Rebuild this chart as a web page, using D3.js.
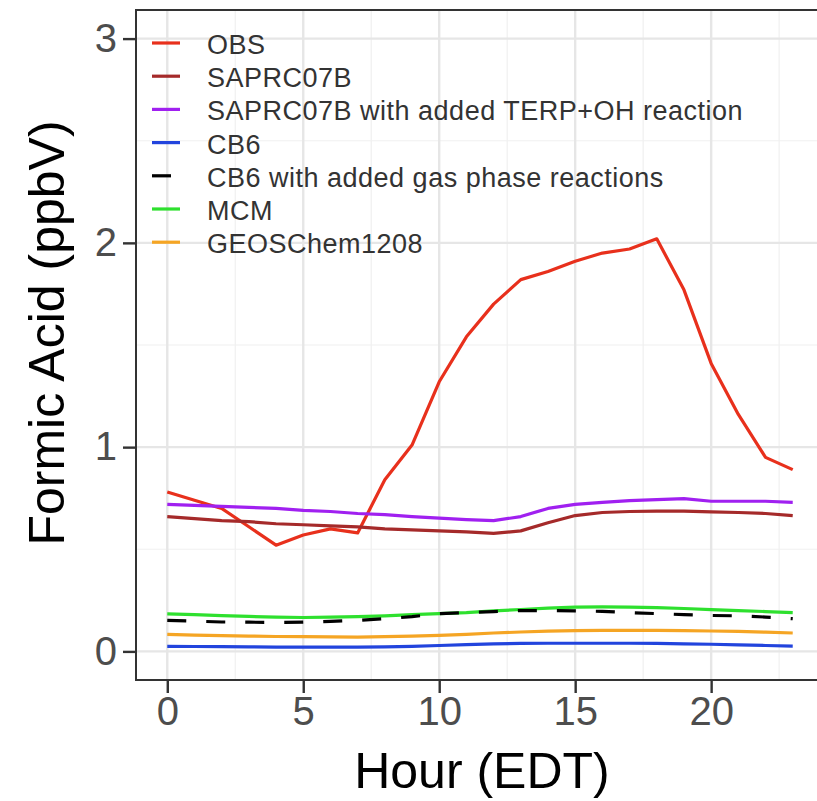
<!DOCTYPE html>
<html>
<head>
<meta charset="utf-8">
<script src="https://cdn.jsdelivr.net/npm/d3@7"></script>
<style>
  body { margin: 0; background: #fff; overflow: hidden; }
  svg { display: block; }
  text { font-family: "Liberation Sans", Arial, Helvetica, sans-serif; }
</style>
</head>
<body>
<svg id="chart" width="817" height="801"></svg>
<script>
// hours of the day
var hours = [0, 1, 2, 3, 4, 5, 6, 7, 8, 9, 10, 11, 12, 13, 14, 15, 16, 17, 18, 19, 20, 21, 22, 23];
var xTicks = [0, 5, 10, 15, 20];
var yTicks = [0, 1, 2, 3];

// formic acid, ppbV
var obs = [0.78, 0.74, 0.70, 0.61, 0.52, 0.57, 0.60, 0.58, 0.84, 1.01, 1.32, 1.54, 1.70, 1.82, 1.86, 1.91, 1.95, 1.97, 2.02, 1.77, 1.41, 1.16, 0.95, 0.89];
var saprc = [0.66, 0.65, 0.64, 0.635, 0.625, 0.62, 0.615, 0.61, 0.60, 0.595, 0.59, 0.585, 0.578, 0.59, 0.63, 0.665, 0.68, 0.685, 0.687, 0.687, 0.683, 0.68, 0.675, 0.665];
var saprcTerp = [0.72, 0.715, 0.71, 0.705, 0.70, 0.69, 0.685, 0.675, 0.67, 0.66, 0.652, 0.645, 0.64, 0.66, 0.70, 0.72, 0.73, 0.738, 0.743, 0.748, 0.735, 0.735, 0.735, 0.73];
var cb6 = [0.025, 0.024, 0.023, 0.022, 0.021, 0.021, 0.021, 0.021, 0.022, 0.025, 0.029, 0.033, 0.037, 0.039, 0.040, 0.040, 0.040, 0.040, 0.039, 0.037, 0.035, 0.032, 0.029, 0.026];
var cb6Added = [0.152, 0.148, 0.144, 0.143, 0.142, 0.143, 0.147, 0.152, 0.16, 0.17, 0.185, 0.19, 0.195, 0.2, 0.2, 0.198, 0.196, 0.19, 0.185, 0.18, 0.176, 0.174, 0.168, 0.16];
var mcm = [0.184, 0.18, 0.175, 0.171, 0.168, 0.166, 0.168, 0.17, 0.174, 0.18, 0.185, 0.19, 0.198, 0.205, 0.212, 0.217, 0.218, 0.217, 0.214, 0.21, 0.205, 0.2, 0.195, 0.19];
var geos = [0.083, 0.08, 0.077, 0.075, 0.073, 0.072, 0.071, 0.07, 0.072, 0.075, 0.078, 0.083, 0.09, 0.095, 0.099, 0.102, 0.103, 0.103, 0.103, 0.102, 0.1, 0.098, 0.094, 0.09];

var seriesNames = ["OBS", "SAPRC07B", "SAPRC07B with added TERP+OH reaction", "CB6",
    "CB6 with added gas phase reactions", "MCM", "GEOSChem1208"];
var seriesValues = [obs, saprc, saprcTerp, cb6, cb6Added, mcm, geos];
var seriesColors = ["#e8301c", "#a52a2a", "#a020f0", "#2244dd", "#000000", "#2ee02e", "#f5a524"];
var seriesDash = [null, null, null, null, "19,20", null, null];

var svg = d3.select("#chart");

// panel edges; the right edge of the panel falls just outside the picture
var pLeft = 136, pRight = 824, pTop = 10, pBottom = 680;
var visRight = 817;

var x = d3.scaleLinear().domain([-1.15, 24.15]).range([pLeft, pRight]);
var y = d3.scaleLinear().domain([-0.14, 3.14]).range([pBottom, pTop]);

// panel grid
var grid = svg.append("g");
[2.5, 7.5, 12.5, 17.5, 22.5].forEach(function (v) {
    grid.append("line").attr("x1", x(v)).attr("x2", x(v)).attr("y1", pTop).attr("y2", pBottom)
        .attr("stroke", "#f0f0f0").attr("stroke-width", 1.2);
});
[0.5, 1.5, 2.5].forEach(function (v) {
    grid.append("line").attr("x1", pLeft).attr("x2", visRight).attr("y1", y(v)).attr("y2", y(v))
        .attr("stroke", "#f0f0f0").attr("stroke-width", 1.2);
});
xTicks.forEach(function (v) {
    grid.append("line").attr("x1", x(v)).attr("x2", x(v)).attr("y1", pTop).attr("y2", pBottom)
        .attr("stroke", "#e6e6e6").attr("stroke-width", 2.4);
});
yTicks.forEach(function (v) {
    grid.append("line").attr("x1", pLeft).attr("x2", visRight).attr("y1", y(v)).attr("y2", y(v))
        .attr("stroke", "#e6e6e6").attr("stroke-width", 2.4);
});

// lines; dashed one drawn last, it sits on top of MCM in the figure
var line = d3.line()
    .x(function (d, i) { return x(hours[i]); })
    .y(function (d) { return y(d); });

var order = [0, 1, 2, 3, 5, 6, 4];
order.forEach(function (k) {
    svg.append("path")
        .datum(seriesValues[k])
        .attr("d", line)
        .attr("fill", "none")
        .attr("stroke", seriesColors[k])
        .attr("stroke-width", 3.2)
        .attr("stroke-dasharray", seriesDash[k])
        .attr("stroke-linejoin", "round");
});

// border: top, left, bottom
svg.append("path")
    .attr("d", "M" + visRight + "," + pTop + "H" + pLeft + "V" + pBottom + "H" + visRight)
    .attr("fill", "none").attr("stroke", "#333").attr("stroke-width", 2);

// axes
var xAxis = svg.append("g").attr("transform", "translate(0," + pBottom + ")")
    .call(d3.axisBottom(x).tickValues(xTicks).tickFormat(d3.format("d")).tickSize(13).tickPadding(4));
var yAxis = svg.append("g").attr("transform", "translate(" + pLeft + ",0)")
    .call(d3.axisLeft(y).tickValues(yTicks).tickFormat(d3.format("d")).tickSize(13).tickPadding(6));
[xAxis, yAxis].forEach(function (a) {
    a.select(".domain").remove();
    a.selectAll(".tick line").attr("stroke", "#333").attr("stroke-width", 2.4);
    a.selectAll(".tick text").attr("fill", "#4d4d4d").style("font-size", "40px");
});

svg.append("text").attr("x", 482).attr("y", 788).attr("text-anchor", "middle")
    .style("font-size", "50px").attr("fill", "#000").text("Hour (EDT)");
svg.append("text").attr("transform", "translate(64,333) rotate(-90)").attr("text-anchor", "middle")
    .style("font-size", "50px").attr("fill", "#000").text("Formic Acid (ppbV)");

// legend
var legend = svg.append("g");
seriesNames.forEach(function (name, i) {
    var ly = 43 + i * 33.2;
    legend.append("line").attr("x1", 152).attr("x2", 180).attr("y1", ly).attr("y2", ly)
        .attr("stroke", seriesColors[i]).attr("stroke-width", 3.2)
        .attr("stroke-dasharray", seriesDash[i]);
    legend.append("text").attr("x", 207).attr("y", ly + 11)
        .style("font-size", "27px").style("letter-spacing", "0.5px")
        .attr("fill", "#333").text(name);
});
</script>
</body>
</html>
